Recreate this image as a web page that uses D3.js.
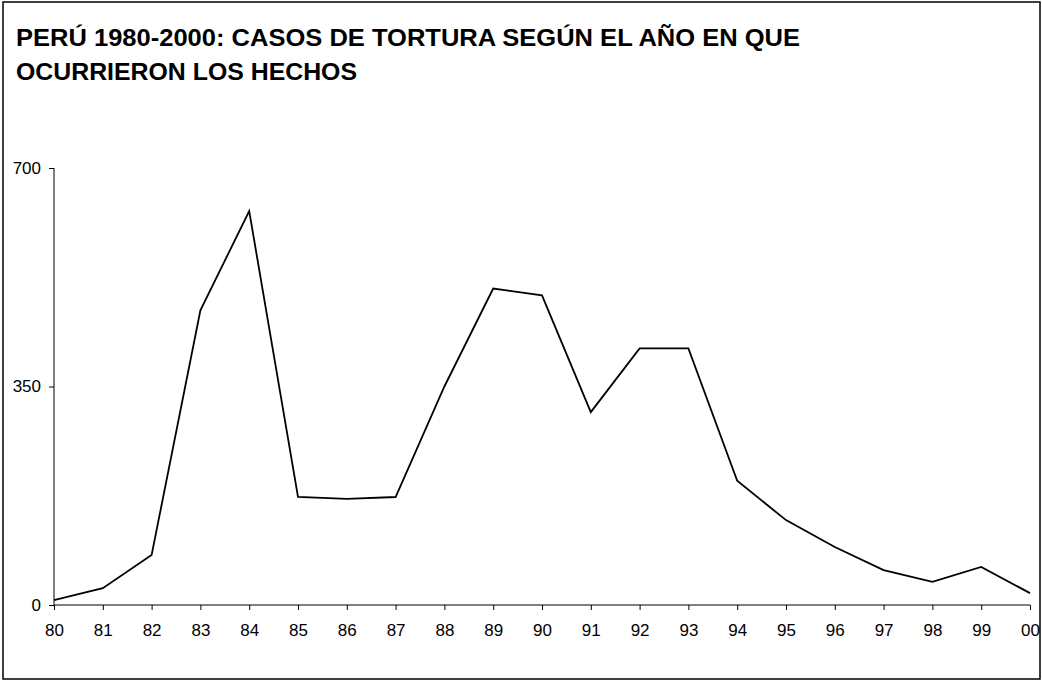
<!DOCTYPE html>
<html>
<head>
<meta charset="utf-8">
<script src="https://cdn.jsdelivr.net/npm/d3@7"></script>
<style>
  html, body { margin: 0; padding: 0; background: #fff; }
  svg { display: block; }
  text { font-family: "Liberation Sans", Arial, sans-serif; fill: #000; }
</style>
</head>
<body>
<svg id="chart" width="1042" height="681"></svg>
<script>
const titleLines = ["PERÚ 1980-2000: CASOS DE TORTURA SEGÚN EL AÑO EN QUE", "OCURRIERON LOS HECHOS"];
const years = ["80","81","82","83","84","85","86","87","88","89","90","91","92","93","94","95","96","97","98","99","00"];
const casos = [8, 27, 80, 472, 631, 173, 170, 173, 350, 507, 496, 309, 411, 411, 199, 136, 93, 56, 37, 61, 19];
const yTicks = [0, 350, 700];

const svg = d3.select("#chart");

svg.append("rect").attr("x", 3).attr("y", 2).attr("width", 1037).attr("height", 677)
  .attr("fill", "#fff").attr("stroke", "#000").attr("stroke-width", 1.5);

const titleWidths = [784, 341];
titleLines.forEach((t, i) => {
  svg.append("text").attr("x", 16).attr("y", 46 + i * 34)
    .attr("font-size", 23).attr("font-weight", "bold")
    .attr("textLength", titleWidths[i]).attr("lengthAdjust", "spacingAndGlyphs")
    .text(t);
});

const x = d3.scalePoint().domain(years).range([54, 1030]);
const y = d3.scaleLinear().domain([0, 700]).range([605, 168]);

const xAxis = svg.append("g").attr("transform", "translate(0,605)")
  .call(d3.axisBottom(x).tickSize(5).tickPadding(14));
xAxis.select(".domain").attr("d", "M54,0H1030").attr("stroke", "#000");
xAxis.selectAll("text").attr("font-size", 17).attr("font-family", "Liberation Sans, Arial, sans-serif").attr("fill", "#000");

const yAxis = svg.append("g").attr("transform", "translate(54,0)")
  .call(d3.axisLeft(y).tickValues(yTicks).tickSize(5).tickPadding(8));
yAxis.select(".domain").attr("d", "M0,605V168").attr("stroke", "#000");
yAxis.selectAll("text").attr("font-size", 17).attr("font-family", "Liberation Sans, Arial, sans-serif").attr("fill", "#000");

const line = d3.line().x((d, i) => x(years[i])).y(d => y(d));
svg.append("path").datum(casos).attr("d", line)
  .attr("fill", "none").attr("stroke", "#000").attr("stroke-width", 1.8)
  .attr("stroke-linejoin", "miter");
</script>
</body>
</html>
